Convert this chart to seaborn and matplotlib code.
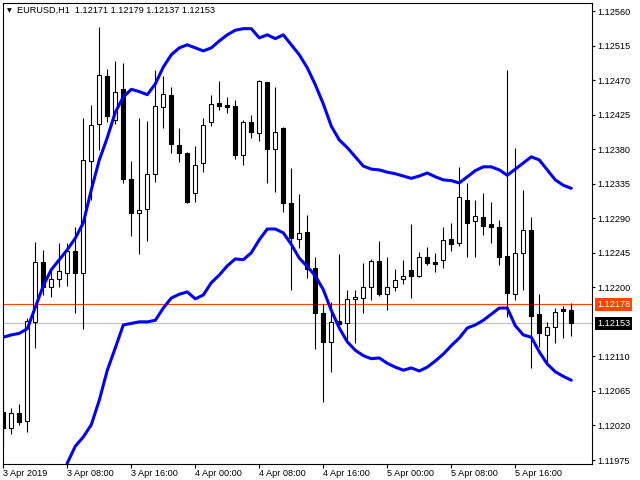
import numpy as np
import pandas as pd
import matplotlib
matplotlib.use("Agg")
import matplotlib.pyplot as plt
import matplotlib.transforms as mtransforms
import seaborn as sns

# ---------------- data ----------------
symbol_title = "EURUSD,H1  1.12171 1.12179 1.12137 1.12153"
time_labels = ["3 Apr 2019", "3 Apr 08:00", "3 Apr 16:00", "4 Apr 00:00",
               "4 Apr 08:00", "4 Apr 16:00", "5 Apr 00:00", "5 Apr 08:00",
               "5 Apr 16:00"]
time_label_bars = [0, 8, 16, 24, 32, 40, 48, 56, 64]

opens = [1.12038, 1.12017, 1.12036, 1.12026, 1.12155, 1.12233, 1.12200, 1.12211,
         1.12219, 1.12247, 1.12219, 1.12365, 1.12413, 1.12475, 1.12418, 1.12458,
         1.12341, 1.12297, 1.12302, 1.12348, 1.12435, 1.12451, 1.12385, 1.12375,
         1.12323, 1.12362, 1.12415, 1.12440, 1.12438, 1.12436, 1.12372, 1.12415,
         1.12401, 1.12468, 1.12380, 1.12408, 1.12310, 1.12263, 1.12272, 1.12225,
         1.12167, 1.12129, 1.12156, 1.12153, 1.12185, 1.12186, 1.12200, 1.12234,
         1.12191, 1.12200, 1.12211, 1.12223, 1.12215, 1.12239, 1.12233, 1.12236,
         1.12263, 1.12258, 1.12314, 1.12286, 1.12292, 1.12282, 1.12279, 1.12241,
         1.12191, 1.12245, 1.12275, 1.12165, 1.12138, 1.12148, 1.12172, 1.12171]
highs = [1.12053, 1.12043, 1.12048, 1.12160, 1.12259, 1.12249, 1.12223, 1.12258,
         1.12258, 1.12279, 1.12421, 1.12438, 1.12539, 1.12484, 1.12495, 1.12492,
         1.12365, 1.12421, 1.12417, 1.12483, 1.12475, 1.12461, 1.12408, 1.12376,
         1.12384, 1.12421, 1.12451, 1.12469, 1.12448, 1.12444, 1.12418, 1.12425,
         1.12470, 1.12468, 1.12461, 1.12409, 1.12355, 1.12322, 1.12294, 1.12239,
         1.12178, 1.12181, 1.12243, 1.12196, 1.12196, 1.12232, 1.12237, 1.12260,
         1.12239, 1.12224, 1.12236, 1.12282, 1.12246, 1.12252, 1.12245, 1.12279,
         1.12284, 1.12357, 1.12336, 1.12314, 1.12323, 1.12311, 1.12288, 1.12483,
         1.12382, 1.12327, 1.12292, 1.12191, 1.12155, 1.12173, 1.12176, 1.12179]
lows = [1.11991, 1.12009, 1.12021, 1.12012, 1.12121, 1.12190, 1.12187, 1.12200,
        1.12202, 1.12167, 1.12146, 1.12314, 1.12379, 1.12415, 1.12413, 1.12336,
        1.12267, 1.12243, 1.12260, 1.12337, 1.12408, 1.12375, 1.12363, 1.12310,
        1.12311, 1.12350, 1.12410, 1.12431, 1.12427, 1.12367, 1.12359, 1.12395,
        1.12391, 1.12336, 1.12324, 1.12298, 1.12196, 1.12251, 1.12212, 1.12120,
        1.12051, 1.12090, 1.12144, 1.12131, 1.12127, 1.12167, 1.12183, 1.12189,
        1.12170, 1.12195, 1.12204, 1.12186, 1.12213, 1.12229, 1.12220, 1.12225,
        1.12247, 1.12254, 1.12239, 1.12239, 1.12268, 1.12258, 1.12229, 1.12161,
        1.12183, 1.12196, 1.12095, 1.12122, 1.12101, 1.12127, 1.12134, 1.12137]
closes = [1.12017, 1.12036, 1.12025, 1.12156, 1.12233, 1.12200, 1.12211, 1.12221,
          1.12247, 1.12219, 1.12366, 1.12412, 1.12477, 1.12423, 1.12454, 1.12341,
          1.12297, 1.12301, 1.12348, 1.12436, 1.12452, 1.12387, 1.12375, 1.12311,
          1.12359, 1.12412, 1.12439, 1.12436, 1.12435, 1.12372, 1.12415, 1.12402,
          1.12469, 1.12380, 1.12402, 1.12310, 1.12264, 1.12271, 1.12224, 1.12167,
          1.12129, 1.12155, 1.12152, 1.12185, 1.12187, 1.12200, 1.12234, 1.12191,
          1.12200, 1.12210, 1.12215, 1.12215, 1.12239, 1.12232, 1.12230, 1.12262,
          1.12256, 1.12318, 1.12284, 1.12293, 1.12280, 1.12279, 1.12239, 1.12193,
          1.12245, 1.12275, 1.12163, 1.12140, 1.12148, 1.12168, 1.12169, 1.12153]
upper_band = [1.12135, 1.12138, 1.12140, 1.12146, 1.12174, 1.12202, 1.12223, 1.12236,
              1.12249, 1.12264, 1.12284, 1.12327, 1.12366, 1.12395, 1.12428, 1.12448,
              1.12458, 1.12455, 1.12451, 1.12465, 1.12487, 1.12503, 1.12512, 1.12516,
              1.12512, 1.12508, 1.12512, 1.12521, 1.12529, 1.12535, 1.12537, 1.12537,
              1.12525, 1.12529, 1.12524, 1.12529, 1.12516, 1.12503, 1.12486, 1.12464,
              1.12439, 1.12410, 1.12392, 1.12382, 1.12370, 1.12358, 1.12354, 1.12353,
              1.12350, 1.12348, 1.12345, 1.12342, 1.12345, 1.12349, 1.12344, 1.12340,
              1.12339, 1.12336, 1.12344, 1.12352, 1.12357, 1.12357, 1.12353, 1.12346,
              1.12354, 1.12362, 1.12370, 1.12366, 1.12353, 1.12340, 1.12333, 1.12329]
lower_band = [np.nan, np.nan, np.nan, np.nan, np.nan, np.nan, np.nan, 1.11936,
              1.11971, 1.11993, 1.12005, 1.12021, 1.12053, 1.12092, 1.12121, 1.12151,
              1.12153, 1.12155, 1.12155, 1.12157, 1.12173, 1.12186, 1.12191, 1.12194,
              1.12185, 1.12190, 1.12206, 1.12216, 1.12228, 1.12237, 1.12236, 1.12245,
              1.12262, 1.12276, 1.12276, 1.12271, 1.12256, 1.12238, 1.12227, 1.12215,
              1.12197, 1.12170, 1.12147, 1.12129, 1.12118, 1.12111, 1.12107, 1.12108,
              1.12101, 1.12096, 1.12092, 1.12095, 1.12091, 1.12096, 1.12104, 1.12113,
              1.12124, 1.12134, 1.12147, 1.12151, 1.12157, 1.12165, 1.12173, 1.12173,
              1.12150, 1.12138, 1.12135, 1.12116, 1.12100, 1.12090, 1.12084, 1.12079]
ask_line = 1.12178
bid_line = 1.12153
price_ticks = [1.11975, 1.12020, 1.12065, 1.12110, 1.12200, 1.12245, 1.12290,
               1.12335, 1.12380, 1.12425, 1.12470, 1.12515, 1.12560]

# ---------------- styling ----------------
sns.set_style("white")
plt.rcParams["font.family"] = ["Liberation Sans", "DejaVu Sans"]
FS = 6.6

W, H = 640, 480
fig = plt.figure(figsize=(W / 100, H / 100), dpi=100)
ax = fig.add_axes([2.5 / W, 16 / H, (592 - 2.5) / W, (464 - 2.5) / H])

n = len(opens)
bars = np.arange(n)
df = pd.DataFrame({"bar": bars, "open": opens, "high": highs, "low": lows,
                   "close": closes, "upper": upper_band, "lower": lower_band})

# horizontal price lines
ax.axhline(bid_line, color="#C0C0C0", lw=0.8, zorder=1)
ax.axhline(ask_line, color="#FF4500", lw=0.8, zorder=1)

# candles
ax.vlines(df["bar"], df["low"], df["high"], color="black", lw=0.8, zorder=2)
bull = df["close"] >= df["open"]
bottoms = np.minimum(df["open"], df["close"])
heights = np.maximum(np.abs(df["close"] - df["open"]), 0.000008)
ax.bar(df["bar"], heights, bottom=bottoms, width=0.5,
       color=np.where(bull, "white", "black"), edgecolor="black",
       linewidth=0.8, zorder=2.5)

# bands
sns.lineplot(data=df, x="bar", y="upper", color="#0000FF", lw=2.2, ax=ax,
             zorder=3)
sns.lineplot(data=df.dropna(), x="bar", y="lower", color="#0000FF", lw=2.2,
             ax=ax, zorder=3)

# axes limits / ticks
ax.set_xlim(-0.1, 73.59)
ax.set_ylim(1.119698, 1.125711)
ax.set_xlabel("")
ax.set_ylabel("")
ax.yaxis.tick_right()
ax.set_yticks(price_ticks)
ax.set_yticklabels([f"{p:.5f}" for p in price_ticks], fontsize=FS)
ax.set_xticks(time_label_bars)
ax.set_xticklabels(time_labels, fontsize=FS, ha="left")
ax.tick_params(axis="y", direction="out", length=2.3, width=0.8, pad=1.5,
               colors="black", right=True, left=False)
ax.tick_params(axis="x", direction="out", length=2.8, width=0.8, pad=0.8,
               colors="black", bottom=True)
for s in ax.spines.values():
    s.set_color("black")
    s.set_linewidth(0.8)
    s.set_visible(True)

# price boxes on the right axis
trans = mtransforms.blended_transform_factory(ax.transAxes, ax.transData) + \
    mtransforms.ScaledTranslation(5 / 100, 0, fig.dpi_scale_trans)
ax.text(1.0, ask_line, f"{ask_line:.5f}", transform=trans, fontsize=FS,
        color="white", ha="left", va="center", clip_on=False, zorder=5,
        bbox=dict(boxstyle="square,pad=0.22", fc="#FF4500", ec="none"))
ax.text(1.0, bid_line, f"{bid_line:.5f}", transform=trans, fontsize=FS,
        color="white", ha="left", va="center", clip_on=False, zorder=5,
        bbox=dict(boxstyle="square,pad=0.22", fc="black", ec="none"))

# title
fig.text(7 / W, 1 - 10.5 / H, "\u25BC", fontsize=4.5, family="DejaVu Sans",
         ha="left", va="center", color="black")
fig.text(17 / W, 1 - 10.5 / H, symbol_title, fontsize=FS, ha="left",
         va="center", color="black")

fig.savefig("out.png", dpi=100, facecolor="white")
